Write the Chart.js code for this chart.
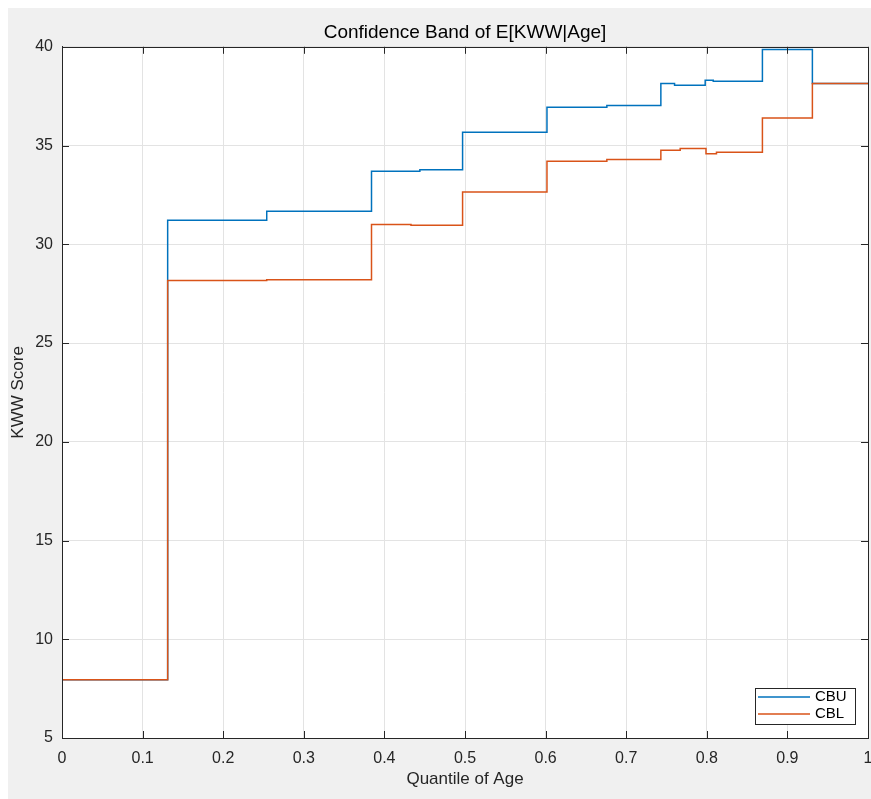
<!DOCTYPE html>
<html>
<head>
<meta charset="utf-8">
<script src="https://cdn.jsdelivr.net/npm/chart.js@4/dist/chart.umd.min.js"></script>
<style>
  html, body { margin: 0; padding: 0; background: #fff; }
  #wrap { width: 871px; height: 799px; }
</style>
</head>
<body>
<div id="wrap"><canvas id="chart" width="871" height="799"></canvas></div>
<script>
  'use strict'

  // step start positions (quantile) and level after that position
  const cbuX = [0, 0.1311, 0.254, 0.384, 0.444, 0.497, 0.6017, 0.676, 0.743, 0.760, 0.798, 0.808, 0.869, 0.931, 1]
  const cbuY = [7.95, 31.22, 31.67, 33.70, 33.78, 35.67, 36.94, 37.03, 38.14, 38.05, 38.31, 38.26, 39.86, 38.14, 38.14]

  const cblX = [0, 0.1311, 0.254, 0.384, 0.433, 0.497, 0.6017, 0.676, 0.743, 0.767, 0.799, 0.812, 0.869, 0.931, 1]
  const cblY = [7.95, 28.16, 28.21, 31.00, 30.96, 32.65, 34.20, 34.29, 34.76, 34.85, 34.58, 34.66, 36.40, 38.14, 38.14]

  const seriesNames = ['CBU', 'CBL']
  const seriesColors = ['#0072BD', '#D95319']

  const xTicks = [0, 0.1, 0.2, 0.3, 0.4, 0.5, 0.6, 0.7, 0.8, 0.9, 1]
  const yTicks = [5, 10, 15, 20, 25, 30, 35, 40]

  const axisColor = '#262626'
  const font = 'Liberation Sans, Arial, sans-serif'

  const toPoints = (xs, ys) => xs.map((x, i) => ({ x, y: ys[i] }))

  // grey figure background + white axes area, like a matlab figure window
  const figureBg = {
    id: 'figureBg',
    afterLayout(chart) {
      // center the title over the axes, not the whole canvas
      const t = chart.titleBlock
      if (t) {
        t.left = chart.chartArea.left
        t.right = chart.chartArea.right
        t.width = t.right - t.left
      }
    },
    beforeDraw(chart) {
      const { ctx, chartArea: a } = chart
      ctx.save()
      ctx.fillStyle = '#ffffff'
      ctx.fillRect(0, 0, chart.width, chart.height)
      ctx.fillStyle = '#f0f0f0'
      ctx.fillRect(8, 8, chart.width - 8, chart.height - 8)
      ctx.fillStyle = '#ffffff'
      ctx.fillRect(a.left, a.top, a.right - a.left, a.bottom - a.top)
      ctx.restore()
    }
  }

  // box, inward ticks on all four sides and the legend box
  const axesBox = {
    id: 'axesBox',
    afterDatasetsDraw(chart) {
      const { ctx, chartArea: a, scales } = chart
      const len = 7
      ctx.save()
      ctx.strokeStyle = axisColor
      ctx.lineWidth = 1
      ctx.beginPath()
      scales.x.ticks.forEach(t => {
        const px = Math.round(scales.x.getPixelForValue(t.value)) + 0.5
        ctx.moveTo(px, a.bottom); ctx.lineTo(px, a.bottom - len)
        ctx.moveTo(px, a.top); ctx.lineTo(px, a.top + len)
      })
      scales.y.ticks.forEach(t => {
        const py = Math.round(scales.y.getPixelForValue(t.value)) + 0.5
        ctx.moveTo(a.left, py); ctx.lineTo(a.left + len, py)
        ctx.moveTo(a.right, py); ctx.lineTo(a.right - len, py)
      })
      ctx.stroke()
      ctx.strokeRect(Math.round(a.left) + 0.5, Math.round(a.top) + 0.5,
        Math.round(a.right - a.left), Math.round(a.bottom - a.top))

      // legend, lower right inside the axes
      const bw = 100, bh = 36
      const bx = Math.round(a.right) - 113, by = Math.round(a.bottom) - 14 - bh
      ctx.fillStyle = '#ffffff'
      ctx.fillRect(bx, by, bw, bh)
      ctx.strokeStyle = axisColor
      ctx.strokeRect(bx + 0.5, by + 0.5, bw, bh)
      ctx.font = '15px ' + font
      ctx.textBaseline = 'middle'
      chart.data.datasets.forEach((ds, i) => {
        const yy = by + 9 + i * 17
        ctx.strokeStyle = ds.borderColor
        ctx.lineWidth = 1.5
        ctx.beginPath()
        ctx.moveTo(bx + 3, yy); ctx.lineTo(bx + 55, yy)
        ctx.stroke()
        ctx.fillStyle = '#000'
        ctx.fillText(ds.label, bx + 60, yy)
      })
      ctx.restore()
    }
  }

  const ctx = document.getElementById('chart')

  new Chart(ctx, {
    type: 'line',
    data: {
      datasets: [
        {
          label: seriesNames[0],
          data: toPoints(cbuX, cbuY),
          borderColor: seriesColors[0],
          borderWidth: 1.5,
          stepped: 'before',
          pointRadius: 0,
          fill: false,
          order: 1 // drawn under CBL, as in the plot
        },
        {
          label: seriesNames[1],
          data: toPoints(cblX, cblY),
          borderColor: seriesColors[1],
          borderWidth: 1.5,
          stepped: 'before',
          pointRadius: 0,
          fill: false,
          order: 0
        }
      ]
    },
    options: {
      responsive: false,
      animation: false,
      layout: { padding: { left: 0, right: 3, top: 0, bottom: 0 } },
      plugins: {
        legend: { display: false },
        tooltip: { enabled: false },
        title: {
          display: true,
          text: 'Confidence Band of E[KWW|Age]',
          color: '#000',
          font: { family: font, size: 19, weight: 'normal' },
          padding: { top: 21, bottom: 3 }
        }
      },
      scales: {
        x: {
          type: 'linear',
          min: 0,
          max: 1,
          afterBuildTicks: scale => { scale.ticks = xTicks.map(v => ({ value: v })) },
          afterFit: scale => {
            scale.height = 61
            // let the last label run past the edge, the axes go almost to the border
            scale.paddingRight = 0
            scale.paddingLeft = 0
          },
          ticks: {
            color: axisColor,
            font: { family: font, size: 16 },
            padding: 11,
            maxRotation: 0,
            callback: v => String(v)
          },
          grid: { color: '#e3e3e3', drawTicks: false },
          border: { color: axisColor },
          title: {
            display: true,
            text: 'Quantile of Age',
            color: axisColor,
            font: { family: font, size: 17 },
            padding: { top: 0, bottom: 9 }
          }
        },
        y: {
          type: 'linear',
          min: 5,
          max: 40,
          afterBuildTicks: scale => { scale.ticks = yTicks.map(v => ({ value: v })) },
          afterFit: scale => { scale.width = 62 },
          ticks: {
            color: axisColor,
            font: { family: font, size: 16 },
            padding: 9,
            callback: v => String(v)
          },
          grid: { color: '#e3e3e3', drawTicks: false },
          border: { color: axisColor },
          title: {
            display: true,
            text: 'KWW Score',
            color: axisColor,
            font: { family: font, size: 17 },
            padding: { top: 8, bottom: 0 }
          }
        }
      }
    },
    plugins: [figureBg, axesBox]
  })
</script>
</body>
</html>
